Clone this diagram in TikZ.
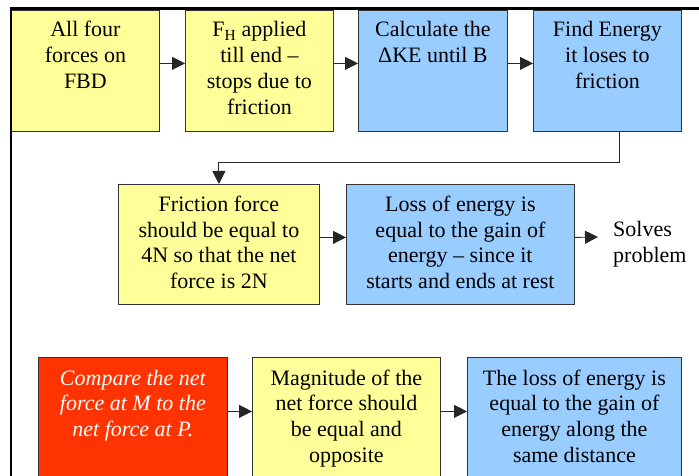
\documentclass[tikz,border=0pt]{standalone}
\usepackage{fontspec}
\setmainfont{Liberation Serif}
\usetikzlibrary{arrows.meta}
\definecolor{byel}{HTML}{FFFF99}
\definecolor{bblue}{HTML}{99CCFF}
\definecolor{bred}{HTML}{FF3300}
\begin{document}
\begin{tikzpicture}[x=1pt,y=-1pt,
  box/.style={draw=black!80, line width=0.8pt, anchor=north west, inner sep=0pt},
  yel/.style={box, fill=byel},
  blu/.style={box, fill=bblue},
  rd/.style={box, fill=bred},
  txt/.style={anchor=base, inner sep=0pt, font=\fontsize{22}{25.7}\selectfont},
  arr/.style={draw=black!85, line width=0.9pt, -{Triangle[length=13pt,width=13pt]}},
]
\useasboundingbox (0,0) rectangle (699,476);
\clip (0,0) rectangle (699,476);
\fill[white] (0,0) rectangle (699,476);
% top row
\node[yel, minimum width=148pt, minimum height=121pt] (b1) at (11,10) {};
\node[yel, minimum width=148pt, minimum height=121pt] (b2) at (185,10) {};
\node[blu, minimum width=149pt, minimum height=121pt] (b3) at (358,10) {};
\node[blu, minimum width=148pt, minimum height=121pt] (b4) at (533,10) {};
% middle row
\node[yel, minimum width=201pt, minimum height=120pt] (b5) at (118,184) {};
\node[blu, minimum width=228pt, minimum height=120pt] (b6) at (346,184) {};
% bottom row
\node[rd, minimum width=189pt, minimum height=122pt] (b7) at (38,357) {};
\node[yel, minimum width=188pt, minimum height=122pt] (b8) at (252,357) {};
\node[blu, minimum width=214pt, minimum height=122pt] (b9) at (467,357) {};
% texts
\node[txt] (t1) at ([yshift=-27pt]b1.north) {\parbox[t]{145pt}{\centering All four\\forces on\\FBD}};
\node[txt] (t2) at ([yshift=-27pt]b2.north) {\parbox[t]{145pt}{\centering F\textsubscript{H} applied\\till end --\\stops due to\\friction}};
\node[txt] (t3) at ([yshift=-27pt]b3.north) {\parbox[t]{145pt}{\centering Calculate the\\ΔKE until B}};
\node[txt] (t4) at ([yshift=-27pt]b4.north) {\parbox[t]{145pt}{\centering Find Energy\\it loses to\\friction}};
\node[txt] (t5) at ([yshift=-27.5pt]b5.north) {\parbox[t]{198pt}{\centering Friction force\\should be equal to\\4N so that the net\\force is 2N}};
\node[txt] (t6) at ([yshift=-27.5pt]b6.north) {\parbox[t]{225pt}{\centering Loss of energy is\\equal to the gain of\\energy -- since it\\starts and ends at rest}};
\node[txt, text=white] (t7) at ([yshift=-28pt]b7.north) {\parbox[t]{186pt}{\centering\itshape Compare the net\\force at M to the\\net force at P.}};
\node[txt] (t8) at ([yshift=-28pt]b8.north) {\parbox[t]{185pt}{\centering Magnitude of the\\net force should\\be equal and\\opposite}};
\node[txt] (t9) at ([yshift=-28pt]b9.north) {\parbox[t]{211pt}{\centering The loss of energy is\\equal to the gain of\\energy along the\\same distance}};
\node[font=\fontsize{22}{25.7}\selectfont, align=left, inner sep=0pt, anchor=west] (sol) at (613,244.5) {Solves\\problem};
% connectors
\draw[arr] ([yshift=7.5pt]b1.east) -- ([yshift=7.5pt]b2.west);
\draw[arr] ([yshift=7.5pt]b2.east) -- ([yshift=7.5pt]b3.west);
\draw[arr] ([yshift=7.5pt]b3.east) -- ([yshift=7.5pt]b4.west);
\coordinate (turn) at (0,162);
\draw[arr] ([xshift=12pt]b4.south) |- (b5.north |- turn) -- (b5.north);
\draw[arr] ([yshift=7pt]b5.east) -- ([yshift=7pt]b6.west);
\draw[arr] ([yshift=7pt]b6.east) -- ([xshift=-15pt,yshift=7.5pt]sol.west);
\draw[arr] ([yshift=7pt]b7.east) -- ([yshift=7pt]b8.west);
\draw[arr] ([yshift=7pt]b8.east) -- ([yshift=7pt]b9.west);
% frame
\draw[line width=2.5pt] (11,485) -- (11,8.5) -- (710,8.5);
\end{tikzpicture}
\end{document}
